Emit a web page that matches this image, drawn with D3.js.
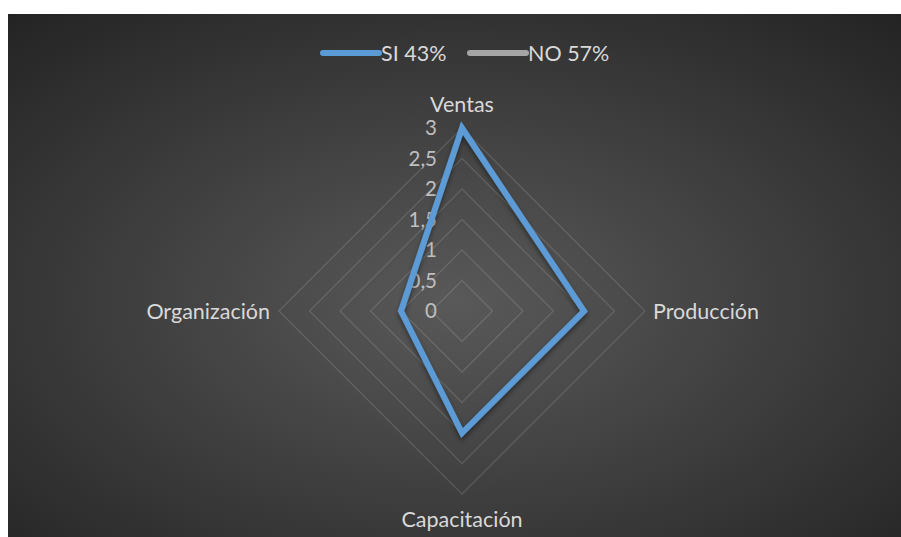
<!DOCTYPE html>
<html>
<head>
<meta charset="utf-8">
<script src="https://cdnjs.cloudflare.com/ajax/libs/d3/7.8.5/d3.min.js"></script>
<style>
  html, body { margin: 0; padding: 0; background: #fff; }
  svg { display: block; font-family: Lato, "Open Sans", sans-serif; }
</style>
</head>
<body>
<svg id="chart" width="901" height="537"></svg>
<script>
// data
var categories = ['Ventas', 'Producción', 'Capacitación', 'Organización'];
var siValues = [3, 2, 2, 1];
var noValues = [null, null, null, null]; // no visible marks in the picture
var seriesNames = ['SI 43%', 'NO 57%'];
var tickValues = [0, 0.5, 1, 1.5, 2, 2.5, 3];

var svg = d3.select('#chart');
var W = 901, H = 537;
var cx = 462, cy = 311, R = 183;

// background panel with radial shading
var defs = svg.append('defs');
var grad = defs.append('radialGradient').attr('id', 'bg')
  .attr('cx', '50%').attr('cy', '55%').attr('r', '75%');
grad.append('stop').attr('offset', '0%').attr('stop-color', '#595959');
grad.append('stop').attr('offset', '100%').attr('stop-color', '#232323');

var shadow = defs.append('filter').attr('id', 'shadow')
  .attr('x', '-20%').attr('y', '-20%').attr('width', '140%').attr('height', '140%');
shadow.append('feDropShadow').attr('dx', 0).attr('dy', 3).attr('stdDeviation', 2.5)
  .attr('flood-color', '#000').attr('flood-opacity', 0.45);

svg.append('rect').attr('x', 8).attr('y', 14).attr('width', W - 8).attr('height', H - 14)
  .attr('fill', 'url(#bg)');

var r = d3.scaleLinear().domain([0, 3]).range([0, R]);
var angle = d3.scaleBand().domain(categories).range([0, 2 * Math.PI]).align(0).paddingInner(0).paddingOuter(0);

function pt(cat, v) {
  var a = angle(cat);
  return [cx + r(v) * Math.sin(a), cy - r(v) * Math.cos(a)];
}

// grid rings
var g = svg.append('g');
tickValues.slice(1).forEach(function(t) {
  var pts = categories.map(function(c) { return pt(c, t); });
  g.append('polygon')
    .attr('points', pts.map(function(p) { return p.join(','); }).join(' '))
    .attr('fill', 'none')
    .attr('stroke', 'rgba(255,255,255,0.13)')
    .attr('stroke-width', 1.3);
});

// tick labels along the Ventas axis
g.selectAll('text.tick').data(tickValues).enter().append('text')
  .attr('class', 'tick')
  .attr('x', cx - 25)
  .attr('y', function(d) { return cy - r(d); })
  .attr('dy', '0.35em')
  .attr('text-anchor', 'end')
  .attr('fill', '#bfbfbf')
  .attr('font-size', 20.5)
  .text(function(d) { return d3.format('')(d).replace('.', ','); });

// SI series
var line = d3.line().curve(d3.curveLinearClosed);
svg.append('path')
  .datum(categories.map(function(c, i) { return pt(c, siValues[i]); }))
  .attr('d', line)
  .attr('fill', 'none')
  .attr('stroke', '#5b9bd5')
  .attr('stroke-width', 6)
  .attr('stroke-linejoin', 'miter')
  .attr('filter', 'url(#shadow)');

// category labels
var labelPos = {
  'Ventas': { x: cx, y: 104, anchor: 'middle' },
  'Producción': { x: 653, y: cy, anchor: 'start' },
  'Capacitación': { x: cx, y: 519, anchor: 'middle' },
  'Organización': { x: 270, y: cy, anchor: 'end' }
};
svg.selectAll('text.cat').data(categories).enter().append('text')
  .attr('class', 'cat')
  .attr('x', function(d) { return labelPos[d].x; })
  .attr('y', function(d) { return labelPos[d].y; })
  .attr('dy', '0.35em')
  .attr('text-anchor', function(d) { return labelPos[d].anchor; })
  .attr('fill', '#d9d9d9')
  .attr('font-size', 21.5)
  .text(function(d) { return d; });

// legend
var legendColors = ['#5b9bd5', '#a5a5a5'];
var legendX = [323, 470];
var lg = svg.selectAll('g.legend').data(seriesNames).enter().append('g')
  .attr('class', 'legend')
  .attr('transform', function(d, i) { return 'translate(' + legendX[i] + ',53)'; });
lg.append('line')
  .attr('x1', 0).attr('x2', 56).attr('y1', 0).attr('y2', 0)
  .attr('stroke', function(d, i) { return legendColors[i]; })
  .attr('stroke-width', 6)
  .attr('stroke-linecap', 'round');
lg.append('text')
  .attr('x', 58).attr('y', 0).attr('dy', '0.35em')
  .attr('fill', '#d9d9d9')
  .attr('font-size', 21.5)
  .text(function(d) { return d; });
</script>
</body>
</html>
